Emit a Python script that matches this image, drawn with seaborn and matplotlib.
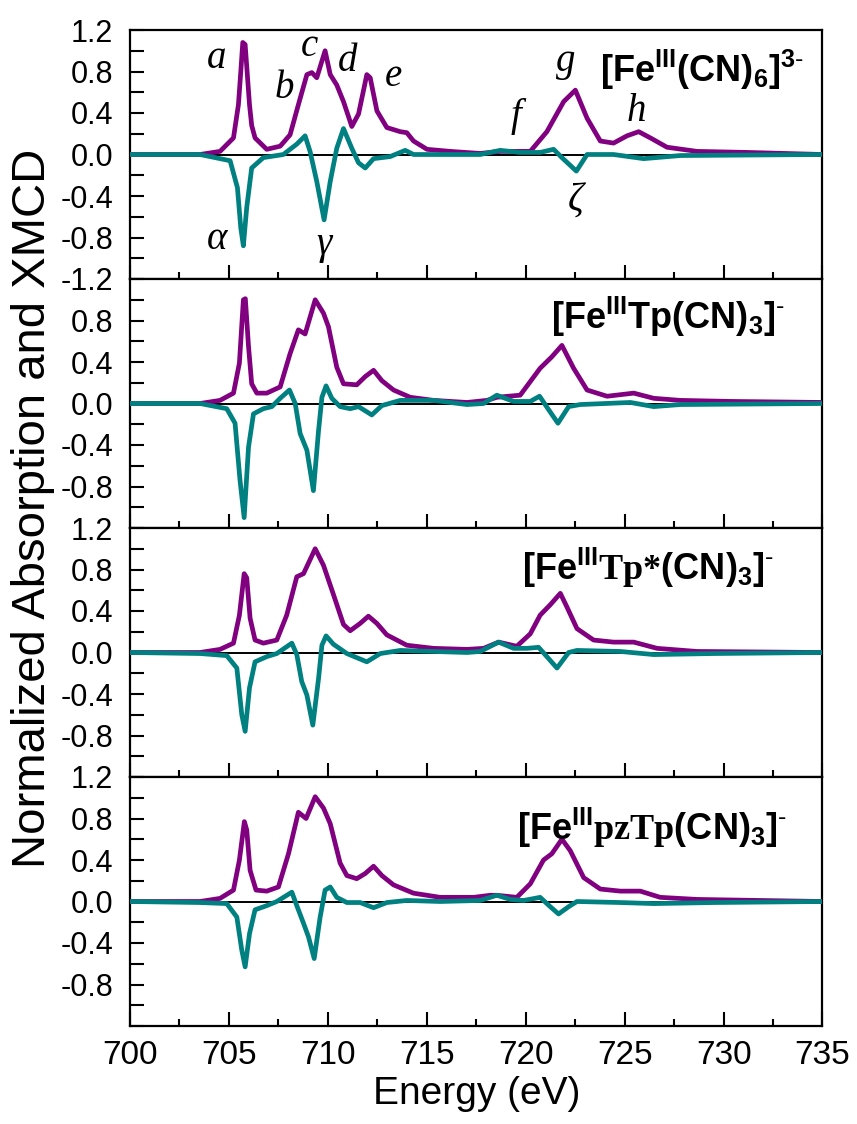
import matplotlib
matplotlib.use("Agg")
import matplotlib.pyplot as plt
import seaborn as sns

# ---- data (energy in eV, normalized intensity) ----
# panel 1: [Fe(CN)6]3-
e_abs1 = [700.0, 703.54, 704.55, 705.23, 705.48, 705.60, 705.70, 705.82, 705.93, 706.04, 706.15,
          706.32, 706.91, 707.59, 708.09, 708.51, 708.94, 709.19, 709.44, 709.86, 710.12, 710.45,
          710.79, 711.21, 711.55, 711.97, 712.14, 712.48, 712.98, 713.66, 713.99, 714.33, 715.01,
          716.19, 717.70, 718.71, 720.23, 721.07, 721.92, 722.51, 723.10, 723.77, 724.44, 725.12,
          725.71, 726.30, 727.14, 728.66, 731.19, 735.0]
abs1 = [0.0, 0.0, 0.03, 0.16, 0.48, 0.80, 1.08, 1.06, 0.77, 0.48, 0.28,
        0.16, 0.05, 0.08, 0.19, 0.48, 0.77, 0.79, 0.74, 1.00, 0.77, 0.67,
        0.51, 0.27, 0.39, 0.77, 0.74, 0.42, 0.26, 0.22, 0.21, 0.13, 0.05,
        0.03, 0.01, 0.03, 0.03, 0.22, 0.51, 0.62, 0.35, 0.13, 0.11, 0.18,
        0.22, 0.16, 0.07, 0.03, 0.02, 0.0]
e_mcd1 = [700.0, 703.54, 705.06, 705.43, 705.60, 705.73, 705.90, 706.15, 706.74, 707.75, 708.43,
          708.85, 709.10, 709.44, 709.81, 710.12, 710.45, 710.79, 711.21, 711.55, 711.89, 712.31,
          713.15, 713.91, 714.33, 716.19, 717.70, 718.71, 719.72, 720.73, 721.41, 721.83, 722.56,
          723.10, 724.44, 725.96, 727.82, 735.0]
mcd1 = [0.0, 0.0, -0.06, -0.32, -0.71, -0.88, -0.51, -0.13, -0.03, 0.0, 0.10,
        0.18, 0.03, -0.26, -0.63, -0.26, 0.06, 0.25, 0.06, -0.08, -0.13, -0.04,
        -0.02, 0.04, 0.0, 0.0, 0.0, 0.04, 0.02, 0.02, 0.05, -0.03, -0.16,
        0.0, 0.0, -0.04, -0.01, 0.0]

# panel 2: [FeTp(CN)3]-
e_abs2 = [700.0, 703.54, 704.55, 705.23, 705.53, 705.73, 705.83, 705.99, 706.15, 706.41, 706.91,
          707.59, 708.09, 708.51, 708.85, 709.36, 709.78, 710.03, 710.45, 710.79, 711.46, 711.89,
          712.31, 712.73, 713.32, 714.16, 715.34, 717.03, 718.04, 718.54, 719.72, 720.73, 721.32,
          721.83, 722.42, 723.10, 724.11, 725.46, 726.47, 727.82, 730.35, 735.0]
abs2 = [0.0, 0.0, 0.03, 0.10, 0.39, 1.00, 1.01, 0.55, 0.19, 0.10, 0.10,
        0.16, 0.48, 0.71, 0.67, 1.00, 0.87, 0.74, 0.35, 0.19, 0.18, 0.26,
        0.32, 0.22, 0.13, 0.06, 0.03, 0.01, 0.03, 0.06, 0.08, 0.34, 0.45,
        0.56, 0.34, 0.13, 0.07, 0.10, 0.05, 0.03, 0.02, 0.01]
e_mcd2 = [700.0, 703.54, 704.89, 705.31, 705.56, 705.77, 705.99, 706.24, 706.74, 707.17, 707.59,
          708.06, 708.35, 708.60, 708.94, 709.27, 709.53, 709.70, 709.91, 710.20, 710.62, 711.13,
          711.55, 712.22, 712.73, 713.66, 715.34, 717.03, 717.87, 718.54, 719.39, 720.23, 720.70,
          721.16, 721.63, 722.17, 722.76, 725.29, 726.47, 727.82, 735.0]
mcd2 = [0.0, 0.0, -0.05, -0.19, -0.74, -1.10, -0.42, -0.10, -0.05, -0.03, 0.05,
        0.13, 0.0, -0.29, -0.45, -0.84, -0.26, 0.06, 0.17, 0.05, -0.03, -0.05,
        -0.03, -0.11, -0.02, 0.03, 0.03, -0.01, 0.0, 0.08, 0.02, 0.02, 0.07,
        -0.06, -0.19, -0.03, -0.01, 0.01, -0.03, -0.01, 0.0]

# panel 3: [FeTp*(CN)3]-
e_abs3 = [700.0, 703.54, 704.55, 705.23, 705.53, 705.77, 705.90, 706.07, 706.32, 706.74, 707.42,
          707.92, 708.43, 708.77, 709.36, 709.78, 710.28, 710.79, 711.13, 711.63, 712.05, 712.48,
          712.98, 713.99, 715.34, 717.03, 717.87, 718.63, 719.55, 720.23, 720.73, 721.24, 721.75,
          722.08, 722.59, 723.43, 724.44, 725.46, 726.64, 728.66, 735.0]
abs3 = [0.0, 0.0, 0.03, 0.09, 0.36, 0.76, 0.72, 0.33, 0.12, 0.09, 0.12,
        0.36, 0.73, 0.76, 1.00, 0.84, 0.56, 0.27, 0.21, 0.28, 0.35, 0.28,
        0.17, 0.07, 0.04, 0.03, 0.04, 0.10, 0.06, 0.18, 0.36, 0.46, 0.57,
        0.44, 0.23, 0.12, 0.10, 0.10, 0.04, 0.01, 0.0]
e_mcd3 = [700.0, 703.54, 704.89, 705.40, 705.65, 705.82, 706.04, 706.32, 706.91, 707.42, 708.18,
          708.43, 708.68, 708.94, 709.24, 709.53, 709.70, 709.91, 710.28, 710.96, 711.97, 712.65,
          713.66, 717.03, 717.70, 718.63, 719.39, 720.06, 720.65, 721.07, 721.58, 722.17, 722.59,
          724.78, 726.47, 729.50, 735.0]
mcd3 = [0.0, -0.01, -0.03, -0.15, -0.60, -0.76, -0.34, -0.09, -0.04, -0.01, 0.09,
        -0.02, -0.28, -0.41, -0.70, -0.25, 0.07, 0.16, 0.08, -0.01, -0.09, -0.01,
        0.02, 0.0, 0.01, 0.10, 0.04, 0.04, 0.05, -0.04, -0.15, 0.0, 0.02,
        0.01, -0.02, -0.01, 0.0]

# panel 4: [FepzTp(CN)3]-
e_abs4 = [700.0, 703.54, 704.55, 705.23, 705.53, 705.78, 705.90, 706.07, 706.37, 706.91, 707.50,
          708.01, 708.51, 708.90, 709.36, 709.78, 710.12, 710.62, 710.96, 711.46, 711.89, 712.31,
          712.73, 713.32, 714.33, 715.68, 717.37, 718.21, 718.54, 719.55, 720.23, 720.90, 721.32,
          721.83, 722.25, 722.93, 723.77, 724.78, 725.79, 726.80, 728.66, 735.0]
abs4 = [0.0, 0.0, 0.03, 0.11, 0.40, 0.77, 0.69, 0.30, 0.11, 0.10, 0.14,
        0.46, 0.86, 0.80, 1.01, 0.90, 0.75, 0.37, 0.25, 0.22, 0.27, 0.34,
        0.25, 0.16, 0.08, 0.04, 0.04, 0.06, 0.06, 0.04, 0.17, 0.40, 0.46,
        0.60, 0.49, 0.23, 0.12, 0.10, 0.10, 0.04, 0.02, 0.0]
e_mcd4 = [700.0, 703.54, 704.89, 705.40, 705.65, 705.82, 706.04, 706.32, 706.91, 707.42, 708.18,
          708.43, 708.77, 709.02, 709.31, 709.61, 709.86, 710.12, 710.45, 710.96, 711.63, 712.31,
          712.98, 713.99, 715.68, 717.70, 718.54, 719.22, 719.89, 720.73, 721.24, 721.66, 722.17,
          722.59, 724.78, 726.47, 729.50, 735.0]
mcd4 = [0.0, -0.01, -0.02, -0.15, -0.47, -0.63, -0.31, -0.08, -0.04, 0.0, 0.09,
        -0.04, -0.21, -0.34, -0.55, -0.15, 0.11, 0.14, 0.04, -0.01, -0.01, -0.06,
        -0.01, 0.01, 0.0, 0.01, 0.06, 0.02, 0.01, 0.04, -0.05, -0.12, -0.05,
        0.0, -0.01, -0.02, -0.01, 0.0]

titles = [r'$\mathbf{[Fe^{III}(CN)_6]^{3\text{-}}}$',
          r'$\mathbf{[Fe^{III}Tp(CN)_3]^{\text{-}}}$',
          r'$\mathbf{[Fe^{III}}\mathtt{Tp}{\mathtt{*}}\mathbf{(CN)_3]^{\text{-}}}$',
          r'$\mathbf{[Fe^{III}}\mathtt{pzTp}\mathbf{(CN)_3]^{\text{-}}}$']
title_pos = [(728.9, 0.82), (727.2, 0.83), (726.2, 0.82), (726.4, 0.71)]

peak_letters = ['a', 'b', 'c', 'd', 'e', 'f', 'g', 'h', 'α', 'γ', 'ζ']
peak_x = [704.4, 707.8, 709.05, 711.0, 713.3, 719.5, 722.0, 725.6, 704.4, 709.8, 722.5]
peak_y = [0.93, 0.64, 1.04, 0.90, 0.75, 0.37, 0.90, 0.41, -0.82, -0.87, -0.45]

yticks = [-1.2, -0.8, -0.4, 0.0, 0.4, 0.8, 1.2]

panels = [(e_abs1, abs1, e_mcd1, mcd1), (e_abs2, abs2, e_mcd2, mcd2),
          (e_abs3, abs3, e_mcd3, mcd3), (e_abs4, abs4, e_mcd4, mcd4)]

sns.set_style("ticks")
plt.rcParams['font.family'] = ['Liberation Sans', 'DejaVu Sans']
plt.rcParams['mathtext.fontset'] = 'custom'
plt.rcParams['mathtext.rm'] = 'Liberation Sans'
plt.rcParams['mathtext.bf'] = 'Liberation Sans:bold'
plt.rcParams['mathtext.tt'] = 'Liberation Serif:bold'
for k in ['text.color', 'axes.labelcolor', 'xtick.color', 'ytick.color', 'axes.edgecolor']:
    plt.rcParams[k] = 'black'

fig = plt.figure(figsize=(8.57, 11.24), dpi=100)
W, H = 857.0, 1124.0
left, right = 130.0, 822.5
top0, ph = 30.0, 249.0

for i, (ea, ya, em, ym) in enumerate(panels):
    bottom = H - (top0 + ph * (i + 1))
    ax = fig.add_axes([left / W, bottom / H, (right - left) / W, ph / H])
    ax.axhline(0, color='black', lw=1.4, zorder=1)
    sns.lineplot(x=ea, y=ya, ax=ax, color='#800080', linewidth=3.4, sort=False,
                 estimator=None, solid_joinstyle='round', zorder=3)
    sns.lineplot(x=em, y=ym, ax=ax, color='#008080', linewidth=3.4, sort=False,
                 estimator=None, solid_joinstyle='round', zorder=4)
    ax.set_xlim(700, 735)
    ax.set_ylim(-1.2, 1.2)
    ax.set_xlabel('')
    ax.set_ylabel('')

    ax.set_xticks(range(700, 736, 5))
    ax.set_xticks([702.5 + 5 * k for k in range(7)], minor=True)
    ax.set_yticks(yticks)
    ax.set_yticks([-1.0, -0.6, -0.2, 0.2, 0.6, 1.0], minor=True)
    if i == 0:
        labels = ['%.1f' % v for v in yticks]
    elif i == 1:
        labels = [''] + ['%.1f' % v for v in yticks[1:-1]] + ['']
    else:
        labels = [''] + ['%.1f' % v for v in yticks[1:]]
    ax.set_yticklabels(labels)
    ax.tick_params(axis='y', which='major', direction='in', length=10, width=1.5,
                   labelsize=22, pad=12, right=False)
    ax.tick_params(axis='y', which='minor', direction='in', length=10, width=1.5, right=False)
    ax.tick_params(axis='x', which='major', direction='in', length=10, width=1.5,
                   labelsize=24, pad=10, top=False)
    ax.tick_params(axis='x', which='minor', direction='in', length=5, width=1.5, top=False)
    if i < 3:
        ax.set_xticklabels([])
    for sp in ax.spines.values():
        sp.set_linewidth(1.6)
        sp.set_visible(True)

    ax.text(title_pos[i][0], title_pos[i][1], titles[i], fontsize=26,
            ha='center', va='center')

    if i == 0:
        for s, x, y in zip(peak_letters, peak_x, peak_y):
            ax.text(x, y, s, family='Liberation Serif', style='italic', fontsize=28,
                    ha='center', va='center')

fig.text(33 / W, 1 - 508 / H, 'Normalized Absorption and XMCD', rotation=90,
         ha='center', va='center', fontsize=34)
fig.text((left + right) / 2 / W, 1 - 1094 / H, 'Energy (eV)', ha='center',
         va='center', fontsize=28)

fig.savefig('out.png', dpi=100)
